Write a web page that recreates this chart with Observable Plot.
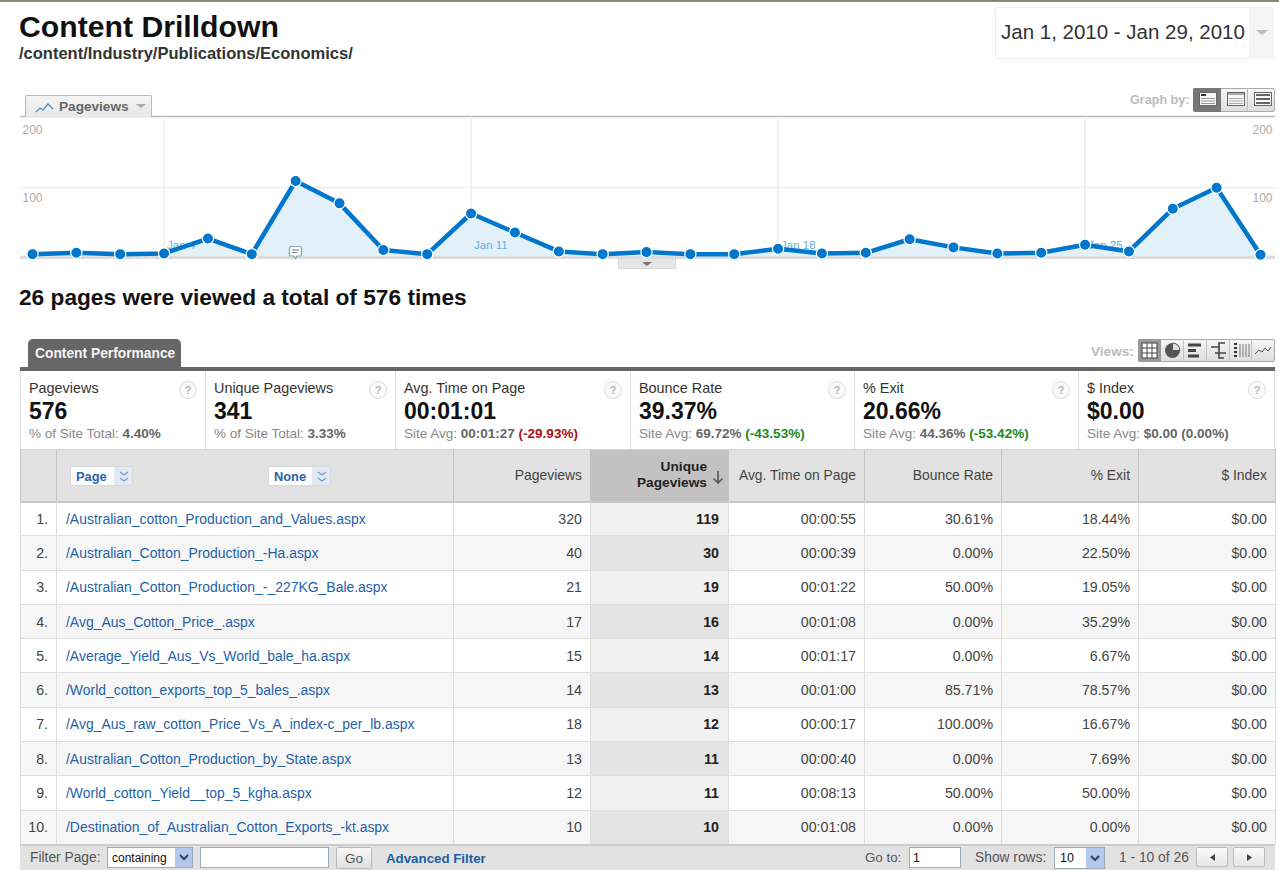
<!DOCTYPE html>
<html>
<head>
<meta charset="utf-8">
<title>Content Drilldown</title>
<script src="https://cdn.jsdelivr.net/npm/d3@7"></script>
<script src="https://cdn.jsdelivr.net/npm/@observablehq/plot@0.6"></script>
<style>
  html, body { margin: 0; padding: 0; background: #fff; }
  body { font-family: "Liberation Sans", Arial, sans-serif; color: #333; }
  #page { position: relative; width: 1279px; height: 870px; overflow: hidden; background: #fff; }
  .t { position: absolute; white-space: nowrap; transform: translateY(-50%); line-height: 1; }
  .box { position: absolute; box-sizing: border-box; }
  #chart { position: absolute; left: 0; top: 110px; }
  #chart svg { display: block; }
  table { position: absolute; left: 20px; top: 449px; width: 1255px; border-collapse: collapse; table-layout: fixed; font-size: 14.2px; }
  th, td { box-sizing: border-box; border: 1px solid #dedede; padding: 0 8px 0 0; text-align: right; font-weight: normal; }
  th { height: 52px; background: #e2e2e2; border-color: #c4c4c4; border-top-color: #d4d4d4; border-bottom: 2px solid #c8c8c8; color: #444; font-size: 13.9px; }
  td { height: 34.3px; color: #444; }
  tr:nth-child(even) td { background: #f6f6f6; }
  th.sorted { background: #c2c2c2; color: #222; font-weight: bold; font-size: 13.7px; line-height: 16px; padding-right: 21px; }
  td.sorted { font-weight: bold; color: #222; background: #f1f1f1; font-size: 14.2px; padding-right: 9px; }
  tr:nth-child(even) td.sorted { background: #e4e4e4; }
  td.rank { padding-right: 8px; }
  td.path { text-align: left; padding-left: 9px; color: #1f62a8; font-size: 13.95px; }
</style>
</head>
<body>
<div id="page"><div id="chart"></div></div>
<script>
// Daily pageviews for the selected content section
const days = [
  "2010-01-01","2010-01-02","2010-01-03","2010-01-04","2010-01-05","2010-01-06","2010-01-07",
  "2010-01-08","2010-01-09","2010-01-10","2010-01-11","2010-01-12","2010-01-13","2010-01-14",
  "2010-01-15","2010-01-16","2010-01-17","2010-01-18","2010-01-19","2010-01-20","2010-01-21",
  "2010-01-22","2010-01-23","2010-01-24","2010-01-25","2010-01-26","2010-01-27","2010-01-28","2010-01-29"
];
const dailyPageviews = [2,4,2,3,25,2,110,77,8,2,62,34,6,2,5,2,2,10,3,4,24,12,3,4,16,6,69,100,1];
const weekDays = ["2010-01-04","2010-01-11","2010-01-18","2010-01-25"];
const weekLabels = ["Jan 4","Jan 11","Jan 18","Jan 25"];
const yTicks = [100, 200];

// Scorecards above the table
const scoreNames = ["Pageviews","Unique Pageviews","Avg. Time on Page","Bounce Rate","% Exit","$ Index"];
const scoreValues = ["576","341","00:01:01","39.37%","20.66%","$0.00"];
const scoreNotes = ["% of Site Total: ","% of Site Total: ","Site Avg: ","Site Avg: ","Site Avg: ","Site Avg: "];
const scoreBases = ["4.40%","3.33%","00:01:27","69.72%","44.36%","$0.00"];
const scoreDeltas = ["","","(-29.93%)","(-43.53%)","(-53.42%)","(0.00%)"];
const scoreDeltaColors = ["","","#a11","#1a8a1a","#1a8a1a","#666"];

// Table rows
const pagePaths = [
  "/Australian_cotton_Production_and_Values.aspx",
  "/Australian_Cotton_Production_-Ha.aspx",
  "/Australian_Cotton_Production_-_227KG_Bale.aspx",
  "/Avg_Aus_Cotton_Price_.aspx",
  "/Average_Yield_Aus_Vs_World_bale_ha.aspx",
  "/World_cotton_exports_top_5_bales_.aspx",
  "/Avg_Aus_raw_cotton_Price_Vs_A_index-c_per_lb.aspx",
  "/Australian_Cotton_Production_by_State.aspx",
  "/World_cotton_Yield__top_5_kgha.aspx",
  "/Destination_of_Australian_Cotton_Exports_-kt.aspx"
];
const pageviews = [320,40,21,17,15,14,18,13,12,10];
const uniquePageviews = [119,30,19,16,14,13,12,11,11,10];
const avgTimes = ["00:00:55","00:00:39","00:01:22","00:01:08","00:01:17","00:01:00","00:00:17","00:00:40","00:08:13","00:01:08"];
const bounceRates = ["30.61%","0.00%","50.00%","0.00%","0.00%","85.71%","100.00%","0.00%","50.00%","0.00%"];
const exitRates = ["18.44%","22.50%","19.05%","35.29%","6.67%","78.57%","16.67%","7.69%","50.00%","0.00%"];
const dollarIndex = ["$0.00","$0.00","$0.00","$0.00","$0.00","$0.00","$0.00","$0.00","$0.00","$0.00"];

const page = document.getElementById("page");

function text(x, y, str, css = "") {
  const el = document.createElement("div");
  el.className = "t";
  el.style.cssText = `left:${x}px;top:${y}px;${css}`;
  el.innerHTML = str;
  page.appendChild(el);
  return el;
}
function box(x, y, w, h, css = "", inner = "") {
  const el = document.createElement("div");
  el.className = "box";
  el.style.cssText = `left:${x}px;top:${y}px;width:${w}px;height:${h}px;${css}`;
  el.innerHTML = inner;
  page.appendChild(el);
  return el;
}
const tri = (c, w = 6, h = 5) =>
  `<svg width="${w * 2}" height="${h}" style="display:block"><path d="M0 0H${w * 2}L${w} ${h}Z" fill="${c}"/></svg>`;

// Page header
box(0, 0, 1279, 2, "background:#8a8a78");
text(19, 27, "Content Drilldown", "font:bold 30.2px 'Liberation Sans';color:#111");
text(19, 53, "/content/Industry/Publications/Economics/", "font:bold 16.5px 'Liberation Sans';color:#333");
box(995, 7, 278, 52, "border:1px solid #eee;border-radius:2px");
box(1249, 8, 23, 50, "background:#f5f5f5");
text(1001, 32, "Jan 1, 2010 - Jan 29, 2010", "font:20.5px 'Liberation Sans';color:#333");
box(1256, 30, 12, 6, "", tri("#bbb"));

// Graph tab and controls
box(25, 95, 127, 22, "border:1px solid #bbb;border-bottom:none;border-radius:2px 2px 0 0;background:linear-gradient(#f4f4f4,#e8e8e8)");
box(35, 100, 20, 12, "", `<svg width="20" height="12"><path d="M1 10 L5 6 L8 8 L13 2 L18 7" fill="none" stroke="#4a90d0" stroke-width="1.3"/></svg>`);
text(59, 106, "Pageviews", "font:bold 13.6px 'Liberation Sans';color:#666");
box(136, 104, 12, 5, "", tri("#aaa", 5, 4));
text(1130, 100, "Graph by:", "font:bold 12.6px 'Liberation Sans';color:#bbb");
const lines = (a) => `<svg width="18" height="14" style="position:absolute;left:6px;top:4px"><rect x=".5" y=".5" width="17" height="13" fill="#f8f8f8" stroke="#666"/>${a}</svg>`;
box(1193, 88, 82, 24, "border:1px solid #aaa;border-radius:2px;background:linear-gradient(#f6f6f6,#ddd)");
box(1193, 88, 28, 24, "background:#777;border-radius:2px 0 0 2px",
  lines(`<rect x="2" y="2" width="5" height="2" fill="#333"/><path d="M2 6.5H16M2 9H16M2 11.5H16" stroke="#999"/>`));
box(1221, 88, 27, 24, "border-right:1px solid #bbb",
  lines(`<rect x="1" y="1" width="16" height="2" fill="#aaa"/><path d="M2 6.5H16M2 9H16M2 11.5H16" stroke="#aaa"/>`));
box(1248, 88, 27, 24, "",
  lines(`<path d="M2 3H16M2 7H16M2 11H16" stroke="#666" stroke-width="2"/>`));

// Trend chart
const points = days.map((d, i) => ({date: new Date(d), views: dailyPageviews[i]}));
const weeks = weekDays.map((d, i) => ({date: new Date(d), label: weekLabels[i]}));
const yTop = 205.3;
const trend = Plot.plot({
  width: 1279,
  height: 160,
  marginLeft: 20,
  marginRight: 4,
  marginTop: 6,
  marginBottom: 15,
  style: {fontFamily: "'Liberation Sans'", background: "transparent", overflow: "visible"},
  x: {type: "utc", domain: [new Date(days[0]), new Date(days[days.length - 1])], range: [32, 1260], axis: null},
  y: {domain: [0, yTop]},
  marks: [
    Plot.ruleY([yTop], {stroke: "#bbb", strokeWidth: 1.5}),
    Plot.ruleY([100], {stroke: "#e8e8e8"}),
    Plot.ruleX(weeks, {x: "date", y1: 0, y2: yTop, stroke: "#e4e4e4"}),
    Plot.axisY(yTicks, {anchor: "left", label: null, tickSize: 0, tickPadding: -2, textAnchor: "start", dy: 10, fontSize: 12, color: "#aaa"}),
    Plot.axisY(yTicks, {anchor: "right", label: null, tickSize: 0, tickPadding: -3, textAnchor: "end", dy: 10, fontSize: 12, color: "#aaa"}),
    Plot.areaY(points, {x: "date", y: "views", fill: "#e2f0f9"}),
    Plot.ruleY([0], {stroke: "#dcdcdc", strokeWidth: 3.5, dy: 1.8}),
    Plot.text(weeks, {x: "date", y: 0, text: "label", dx: 3, dy: -10, textAnchor: "start", fontSize: 11.5, fill: "#62aede", letterSpacing: "0.6px"}),
    Plot.lineY(points, {x: "date", y: "views", stroke: "#0077cc", strokeWidth: 4.5, curve: "linear"}),
    Plot.dot(points, {x: "date", y: "views", r: 5.6, fill: "#0077cc", stroke: "#fff", strokeWidth: 1.2})
  ]
});
document.getElementById("chart").appendChild(trend);

// Annotation marker and collapse handle under the trend chart
box(288, 245, 15, 15, "", `<svg width="15" height="15"><path d="M3 1.5H12Q13.5 1.5 13.5 3V9.5Q13.5 11 12 11H9L7.5 13.5L6 11H3Q1.5 11 1.5 9.5V3Q1.5 1.5 3 1.5Z" fill="#fff" stroke="#88a4b4" stroke-width="1.2"/><path d="M4 5H11M4 7.5H9" stroke="#778"/></svg>`);
box(618, 259, 58, 10, "background:#e6e6e6;border:1px solid #d4d4d4;border-top:none;border-radius:0 0 2px 2px");
box(642, 262, 10, 5, "", tri("#777", 5, 4));

text(19, 297, "26 pages were viewed a total of 576 times", "font:bold 22.7px 'Liberation Sans';color:#111");

// Content performance tab and view buttons
box(28, 339, 153, 29, "background:#666;border-radius:5px 5px 0 0");
text(35, 353, "Content Performance", "font:bold 13.8px 'Liberation Sans';color:#f4f4f4");
box(20, 367, 1255, 3.5, "background:#666");
text(1091, 351, "Views:", "font:bold 13.6px 'Liberation Sans';color:#bbb");
box(1138, 339, 137, 23, "border:1px solid #aaa;border-radius:2px;background:linear-gradient(#f6f6f6,#ddd)");
box(1138, 339, 23, 23, "background:#999;border-radius:2px 0 0 2px",
  `<svg width="23" height="23"><rect x="4" y="4" width="15" height="15" fill="#fff" stroke="#444"/><path d="M9 4V19M14 4V19M4 9H19M4 14H19" stroke="#444"/></svg>`);
box(1161, 339, 23, 23, "border-right:1px solid #c4c4c4",
  `<svg width="23" height="23"><circle cx="11.5" cy="11.5" r="7.5" fill="#555"/><path d="M11.5 11.5V4A7.5 7.5 0 0 1 19 11.5Z" fill="#ddd" stroke="#555"/></svg>`);
box(1184, 339, 23, 23, "border-right:1px solid #c4c4c4",
  `<svg width="23" height="23"><path d="M4 6H17M4 11.5H12M4 17H15" stroke="#444" stroke-width="3"/></svg>`);
box(1207, 339, 23, 23, "border-right:1px solid #c4c4c4",
  `<svg width="23" height="23"><path d="M4 8H12V14H19M8 14H12M12 8V4H18M12 14V19H17" fill="none" stroke="#444" stroke-width="1.6"/></svg>`);
box(1230, 339, 22, 23, "border-right:1px solid #c4c4c4",
  `<svg width="22" height="23"><path d="M4 5H7M4 9H7M4 13H7M4 17H7" stroke="#333" stroke-width="2"/><path d="M10 5V18M13 5V18M16 5V18M19 5V18" stroke="#777"/></svg>`);
box(1252, 339, 22, 23, "",
  `<svg width="22" height="23"><path d="M3 15L7 11L10 13L13 9L16 12L19 8" fill="none" stroke="#555"/></svg>`);

// Scorecards
const scoreLeft = [20, 205, 395, 630, 854, 1078];
const scoreRight = [205, 395, 630, 854, 1078, 1275];
scoreNames.forEach((name, i) => {
  const x = scoreLeft[i], w = scoreRight[i] - x + 1;
  box(x, 370.5, i === 5 ? w - 1 : w, 80, `border-right:1px solid #ddd;${i === 0 ? "border-left:1px solid #ddd;" : ""}`);
  const tx = x + 9;
  text(tx, 388, name, "font:14.4px 'Liberation Sans';color:#333");
  text(tx, 411, scoreValues[i], "font:bold 23px 'Liberation Sans';color:#111");
  const delta = scoreDeltas[i] ? ` <span style="color:${scoreDeltaColors[i]};font-weight:bold">${scoreDeltas[i]}</span>` : "";
  text(tx, 433, `${scoreNotes[i]}<b style="color:#666">${scoreBases[i]}</b>${delta}`, "font:13.5px 'Liberation Sans';color:#888");
  const hx = scoreRight[i] - (i === 5 ? 27 : 26);
  box(hx, 381, 18, 18, "border:1px solid #ddd;border-radius:50%;font:bold 11px/16px 'Liberation Sans';color:#bbb;text-align:center;background:#fafafa", "?");
});

// Data table
const colWidths = [36, 397, 137, 138, 136, 137, 137, 137];
const th = ["", "", "Pageviews", "Unique<br>Pageviews", "Avg. Time on Page", "Bounce Rate", "% Exit", "$ Index"];
const table = document.createElement("table");
table.innerHTML =
  `<colgroup>${colWidths.map(w => `<col style="width:${w}px">`).join("")}</colgroup>` +
  `<thead><tr>${th.map((h, i) => `<th${i === 3 ? ' class="sorted"' : ""}>${h}</th>`).join("")}</tr></thead>` +
  `<tbody>${pagePaths.map((p, i) => `<tr>
    <td class="rank">${i + 1}.</td>
    <td class="path">${p}</td>
    <td>${pageviews[i]}</td>
    <td class="sorted">${uniquePageviews[i]}</td>
    <td>${avgTimes[i]}</td>
    <td>${bounceRates[i]}</td>
    <td>${exitRates[i]}</td>
    <td>${dollarIndex[i]}</td>
  </tr>`).join("")}</tbody>`;
page.appendChild(table);

// Sort arrow and dimension pickers in the header row
box(711, 470, 14, 15, "", `<svg width="14" height="15"><path d="M7 1V13M2.5 8.5L7 13L11.5 8.5" fill="none" stroke="#555" stroke-width="1.6"/></svg>`);
function picker(x, w, label) {
  const chevrons = `<svg width="12" height="14" style="position:absolute;left:4px;top:3px"><path d="M2 2L6 5L10 2M2 8L6 11L10 8" fill="none" stroke="#7a9cc0" stroke-width="1.2"/></svg>`;
  box(x, 466, w, 20, "background:#fff;border:1px solid #d8d8d8;border-radius:2px");
  box(x + w - 19, 467, 18, 18, "background:#dfeaf6", chevrons);
  text(x + 6, 475.5, label, "font:bold 12.8px 'Liberation Sans';color:#2a62b0");
}
picker(70, 63, "Page");
picker(268, 63, "None");

// Footer controls
box(20, 844, 1255, 26, "background:#e2e2e2;border-top:2px solid #ccc");
const selArrow = `<svg width="10" height="7"><path d="M1 1L5 5L9 1" fill="none" stroke="#345" stroke-width="2"/></svg>`;
text(30, 857, "Filter Page:", "font:13.8px 'Liberation Sans';color:#555");
box(107, 847, 86, 21, "background:#fff;border:1px solid #9ab");
box(175, 848, 17, 19, "background:#b4c8ee;display:flex;align-items:center;justify-content:center", selArrow);
text(112, 858, "containing", "font:12px 'Liberation Sans';color:#111");
box(200, 847, 129, 21, "background:#fff;border:1px solid #9ab");
box(336, 847, 36, 22, "background:linear-gradient(#f8f8f8,#e0e0e0);border:1px solid #bbb;border-radius:2px");
text(345, 858, "Go", "font:13.5px 'Liberation Sans';color:#555");
text(386, 858, "Advanced Filter", "font:bold 13.3px 'Liberation Sans';color:#1d5f9e");
text(865, 857, "Go to:", "font:13.3px 'Liberation Sans';color:#555");
box(909, 847, 52, 21, "background:#fff;border:1px solid #9ab");
text(913, 858, "1", "font:12.5px 'Liberation Sans';color:#111");
text(975, 857, "Show rows:", "font:13.8px 'Liberation Sans';color:#555");
box(1054, 847, 51, 22, "background:#fff;border:1px solid #9ab");
box(1086, 848, 18, 20, "background:#b4c8ee;display:flex;align-items:center;justify-content:center", selArrow);
text(1060, 858, "10", "font:12.5px 'Liberation Sans';color:#111");
text(1119, 857, "1 - 10 of 26", "font:13.8px 'Liberation Sans';color:#555");
const arrowBtn = (d) => `<svg width="30" height="19"><path d="${d}" fill="#444"/></svg>`;
box(1196, 847, 32, 20, "background:linear-gradient(#fafafa,#e6e6e6);border:1px solid #bbb;border-radius:2px", arrowBtn("M18 6V13L13 9.5Z"));
box(1233, 847, 32, 20, "background:linear-gradient(#fafafa,#e6e6e6);border:1px solid #bbb;border-radius:2px", arrowBtn("M13 6V13L18 9.5Z"));
</script>
</body>
</html>
